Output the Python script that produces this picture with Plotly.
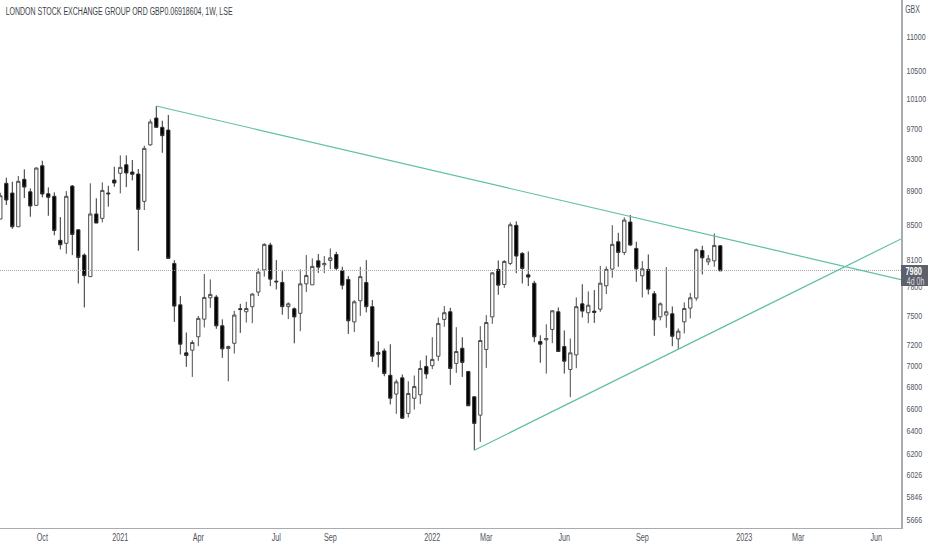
import numpy as np
import plotly.graph_objects as go

week_index = list(range(121))
opens = [8564,8995,8876,8474,9045,8891,8727,9215,8867,8836,8317,8283,8961,8438,8150,7912,8624,8572,8876,9036,
 9120,9228,9136,9111,8775,9484,9840,9715,9679,8057,7611,7125,7151,7284,7463,7685,7693,7395,7167,7219,
 7570,7539,7592,7746,7986,8263,7863,7849,7592,7570,7523,7834,7823,8086,8042,8090,8157,7975,7882,7435,
 7654,7849,7592,7128,7144,6909,6732,6884,6556,6694,6726,6993,7000,7092,7460,7539,7022,7170,6944,6707,
 6540,7158,7486,7991,7827,8057,8490,8169,7932,7841,7237,7253,7358,7539,7187,6964,7105,7622,7529,7546,
 7566,7813,7994,8301,8180,8529,8225,7921,7991,7728,7486,7505,7518,7263,7435,7577,7682,8202,8075,8086,8255]
highs = [8879,9065,9015,9086,9170,8933,9195,9279,8945,8884,8587,8900,8974,8445,8169,8995,8812,9007,8965,9203,
 9348,9348,9288,9174,9472,9822,10004,9804,9881,8094,7703,7327,7250,7496,7940,7882,7714,7460,7197,7549,
 7622,7643,7733,8002,8283,8290,8094,7972,7637,7584,7991,8150,8113,8161,8139,8225,8187,8020,7918,7661,
 8020,8094,7661,7240,7167,7210,6869,6916,6852,6906,7051,7099,7280,7480,7598,7580,7381,7280,6951,6712,
 7391,7505,7961,8090,8094,8525,8537,8183,8191,7867,7299,7410,7556,7584,7348,7267,7689,7830,7753,7767,
 8030,8024,8493,8404,8584,8612,8301,8083,8157,7757,7637,8016,7594,7368,7637,7737,8225,8255,8150,8396,8263]
lows = [8564,8731,8450,8474,8815,8591,8727,8824,8603,8375,8214,8165,8150,7838,7584,7912,8517,8525,8711,8953,
 8872,8949,9032,8198,8671,9472,9710,9381,8113,7435,7109,6989,6893,7190,7378,7580,7364,7076,6852,7118,
 7323,7428,7422,7703,7912,7810,7774,7508,7463,7219,7341,7746,7823,7953,7950,7994,7983,7774,7313,7331,
 7496,7532,7037,6984,6899,6637,6552,6507,6519,6591,6640,6875,6967,7047,7385,6818,6931,6893,6622,6232,
 6304,6979,7415,7717,7791,8038,7950,7838,7810,7230,7028,6925,7220,7138,6925,6704,6976,7480,7422,7425,
 7539,7725,7900,8020,8150,8255,7856,7689,7721,7294,7450,7375,7190,7161,7318,7471,7654,7936,8038,8020,7975]
closes = [8843,8791,8474,9020,8949,8719,9186,8864,8824,8431,8267,8836,8385,8124,7923,8624,8517,8908,8867,8999,
 9195,9124,9108,8679,9438,9787,9715,9604,8113,7598,7210,7099,7227,7471,7689,7721,7395,7164,7187,7505,
 7563,7573,7725,7961,8271,7885,7856,7592,7622,7486,7834,7925,8024,8016,8057,8119,8002,7820,7446,7643,
 7912,7592,7092,7111,6925,6694,6846,6513,6738,6803,6973,6921,7061,7419,7529,6973,7138,7032,6625,6466,
 7247,7428,7953,7820,8079,8497,8139,8002,7907,7284,7210,7267,7549,7138,7044,7125,7592,7546,7607,7532,
 7841,7991,8271,8180,8552,8263,7997,7997,7777,7456,7622,7539,7289,7341,7573,7685,8210,8119,8108,8259,7975]

tick_prices = [11000,10500,10100,9700,9300,8900,8500,8100,7800,7500,7200,7000,6800,6600,6400,6200,6026,5846,5666]
tick_weeks = [7,20,33,46,55,72,81,94,107,124,133,146]
tick_months = ["Oct","2021","Apr","Jul","Sep","2022","Mar","Jun","Sep","2023","Mar","Jun"]

last_price = 7980
upper_weeks = [26,150.12]
upper_prices = [10004,7880]
lower_weeks = [79,150.12]
lower_prices = [6232,8333]
last_weeks = [-0.05,150.12]
last_prices = [last_price,last_price]

TEXT = "#50535e"
AXIS = "#a9abb3"
TEAL = "#5fbfa6"
FONT = "Liberation Sans, sans-serif"

fig = go.Figure()
fig.add_trace(go.Scatter(x=last_weeks,y=last_prices,mode="lines",
    line=dict(color="#a5a7ae",width=1,dash="1px,1px"),hoverinfo="skip"))
fig.add_trace(go.Candlestick(x=week_index,open=opens,high=highs,low=lows,close=closes,
    whiskerwidth=0,
    increasing=dict(fillcolor="#ffffff",line=dict(color="#4c4c4c",width=1)),
    decreasing=dict(fillcolor="#000000",line=dict(color="#303030",width=1))))
fig.add_trace(go.Scatter(x=upper_weeks,y=upper_prices,mode="lines",line=dict(color=TEAL,width=1.2),hoverinfo="skip"))
fig.add_trace(go.Scatter(x=lower_weeks,y=lower_prices,mode="lines",line=dict(color=TEAL,width=1.2),hoverinfo="skip"))

H = 528.0
W = 901.0
def py(p):
    return 1 - p / H
def px(p):
    return p / W

annots = [
    dict(text="LONDON STOCK EXCHANGE GROUP ORD GBP0.06918604, 1W, LSE",xref="paper",yref="paper",
         x=px(119.5),y=py(11),xanchor="center",yanchor="middle",showarrow=False,font=dict(size=10,color="#3c3f48",family=FONT)),
    dict(text="GBX",xref="paper",yref="paper",x=px(913),y=py(9),xanchor="center",yanchor="middle",showarrow=False,
         font=dict(size=10,color=TEXT,family=FONT)),
    dict(text=str(last_price),xref="paper",yref="paper",x=px(914),y=py(271),xanchor="center",yanchor="middle",showarrow=False,
         font=dict(size=10.5,color="#ffffff",family=FONT,weight=700)),
    dict(text="4d 0h",xref="paper",yref="paper",x=px(915),y=py(281),xanchor="center",yanchor="middle",showarrow=False,
         font=dict(size=10,color="#d8d9de",family=FONT)),
]
shapes = [dict(type="rect",xref="paper",yref="paper",x0=1,x1=px(928),y0=py(286),y1=py(265),
               fillcolor="#5d606b",line=dict(width=0),layer="above")]

fig.update_layout(
    width=932,height=550,autosize=False,
    margin=dict(l=0,r=31,t=0,b=22,autoexpand=False),
    paper_bgcolor="#ffffff",plot_bgcolor="#ffffff",
    showlegend=False,boxgap=0.22,
    font=dict(family=FONT,size=10,color=TEXT),
    annotations=annots,shapes=shapes,
    xaxis=dict(range=[-0.05,150.12],rangeslider=dict(visible=False),showgrid=False,zeroline=False,
               tickmode="array",tickvals=tick_weeks,ticktext=tick_months,ticks="",
               showline=True,linecolor=AXIS,linewidth=1,
               tickfont=dict(size=10,color=TEXT,family=FONT)),
    yaxis=dict(type="log",side="right",range=[float(np.log10(5600)),float(np.log10(11574))],showgrid=False,zeroline=False,
               tickmode="array",tickvals=tick_prices,ticktext=[str(v) for v in tick_prices],
               ticks="outside",ticklen=2,tickcolor="rgba(0,0,0,0)",
               showline=True,linecolor=AXIS,linewidth=1.5,
               tickfont=dict(size=9,color=TEXT,family=FONT)),
)
post = """
document.documentElement.style.margin='0';document.body.style.margin='0';
function squeeze(sel,f){document.querySelectorAll(sel).forEach(function(t){
  t.setAttribute('lengthAdjust','spacingAndGlyphs');
  t.setAttribute('textLength',String(t.getComputedTextLength()*f));
});}
squeeze('.xtick text',0.72);
squeeze('.ytick text',0.78);
squeeze('.annotation-text',0.70);
"""
fig.write_html("out.html",config=dict(displayModeBar=False),post_script=post)
